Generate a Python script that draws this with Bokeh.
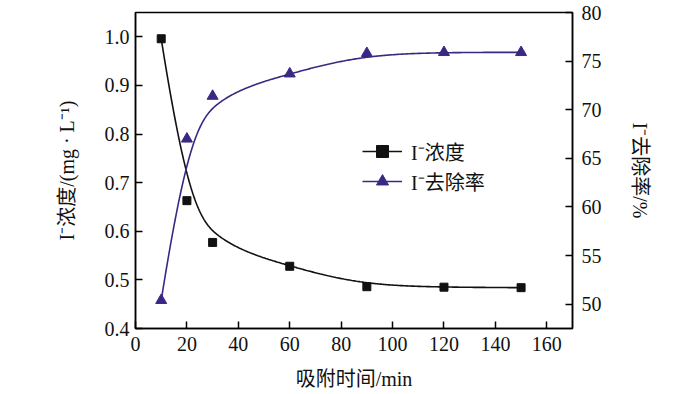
import numpy as np
from bokeh.plotting import figure
from bokeh.models import Range1d, LinearAxis, FixedTicker, Legend, LegendItem
from bokeh.embed import file_html
from bokeh.resources import INLINE

# ---- data ----
time_min = [10, 20, 30, 60, 90, 120, 150]
conc_mg_L = [0.996, 0.663, 0.577, 0.528, 0.486, 0.485, 0.484]
removal_pct = [50.4, 67.0, 71.4, 73.7, 75.8, 75.9, 75.9]
x_ticks = [0, 20, 40, 60, 80, 100, 120, 140, 160]
left_ticks = [0.4, 0.5, 0.6, 0.7, 0.8, 0.9, 1.0]
right_ticks = [50, 55, 60, 65, 70, 75, 80]

x_label = "吸附时间/min"
left_label = "I⁻浓度/(mg · L⁻¹)"
right_label = "I⁻去除率/%"
legend_labels = ["I⁻浓度", "I⁻去除率"]

BLACK = "#111111"
PURPLE = "#3b2883"
FONT = "'Liberation Serif', 'Noto Sans CJK SC', serif"


def bspline(xs, ys, n=300, k=3):
    """Clamped cubic B-spline using the data points as control points."""
    cx = np.asarray(xs, float)
    cy = np.asarray(ys, float)
    m = len(cx)
    t = np.concatenate([np.zeros(k), np.linspace(0, 1, m - k + 1), np.ones(k)])
    u = np.linspace(0, 1, n)
    nb = len(t) - 1
    B = np.zeros((n, nb))
    for i in range(nb):
        B[:, i] = (u >= t[i]) & (u < t[i + 1])
    last = max(i for i in range(nb) if t[i] < t[i + 1])
    B[-1, :] = 0
    B[-1, last] = 1
    for p in range(1, k + 1):
        Bn = np.zeros((n, nb - p))
        for i in range(nb - p):
            d1 = t[i + p] - t[i]
            d2 = t[i + p + 1] - t[i + 1]
            a = (u - t[i]) / d1 * B[:, i] if d1 > 0 else 0
            b = (t[i + p + 1] - u) / d2 * B[:, i + 1] if d2 > 0 else 0
            Bn[:, i] = a + b
        B = Bn
    return B @ cx, B @ cy


W, H = 690, 392
p = figure(width=W, height=H, output_backend="svg", toolbar_location=None,
           x_range=Range1d(0, 170), y_range=Range1d(0.4, 1.05),
           min_border_left=135, min_border_right=W - 572, min_border_top=12,
           min_border_bottom=H - 330)
p.extra_y_ranges = {"r": Range1d(47.5, 80)}
p.xgrid.visible = False
p.ygrid.visible = False
p.outline_line_color = "black"
p.outline_line_width = 1.5
p.background_fill_color = "white"
p.border_fill_color = "white"

bx, by = bspline(time_min, conc_mg_L)
rx, ry = bspline(time_min, removal_pct)

l1 = p.line(bx, by, line_color=BLACK, line_width=1.6)
s1 = p.scatter(time_min, conc_mg_L, marker="square", size=8, fill_color=BLACK, line_color=BLACK)
l2 = p.line(rx, ry, line_color=PURPLE, line_width=1.6, y_range_name="r")
s2 = p.scatter(time_min, removal_pct, marker="triangle", size=11, fill_color=PURPLE,
               line_color=PURPLE, y_range_name="r")

raxis = LinearAxis(y_range_name="r")
p.add_layout(raxis, "right")


def style(ax, ticks, label, standoff):
    ax.ticker = FixedTicker(ticks=ticks)
    ax.minor_tick_line_color = None
    ax.major_tick_in = 7
    ax.major_tick_out = 0
    ax.major_tick_line_width = 1.5
    ax.axis_line_width = 1.5
    ax.axis_line_color = "black"
    ax.major_tick_line_color = "black"
    ax.major_label_text_font = FONT
    ax.major_label_text_font_size = "20px"
    ax.major_label_text_color = "#111111"
    ax.major_label_standoff = 6
    ax.axis_label = label
    ax.axis_label_text_font = FONT
    ax.axis_label_text_font_size = "20px"
    ax.axis_label_text_font_style = "normal"
    ax.axis_label_text_color = "#111111"
    ax.axis_label_standoff = standoff


style(p.xaxis[0], x_ticks, x_label, 14)
style(p.yaxis[0], left_ticks, left_label, 24)
style(raxis, right_ticks, right_label, 24)
p.xaxis[0].major_label_standoff = 8
p.yaxis[0].major_label_overrides = {v: f"{v:.1f}" for v in left_ticks}
raxis.major_label_standoff = 9

legend = Legend(items=[
    LegendItem(label=legend_labels[0], renderers=[l1, s1]),
    LegendItem(label=legend_labels[1], renderers=[l2, s2]),
], location=(227, 132))
legend.border_line_color = None
legend.background_fill_alpha = 0
legend.padding = 0
legend.margin = 0
legend.spacing = 0
legend.glyph_width = 40
legend.glyph_height = 30
legend.label_height = 30
legend.label_standoff = 9
legend.label_text_font = FONT
legend.label_text_font_size = "20px"
legend.label_text_color = "#111111"
p.add_layout(legend, "center")

open("out.html", "w").write(file_html(p, INLINE))
